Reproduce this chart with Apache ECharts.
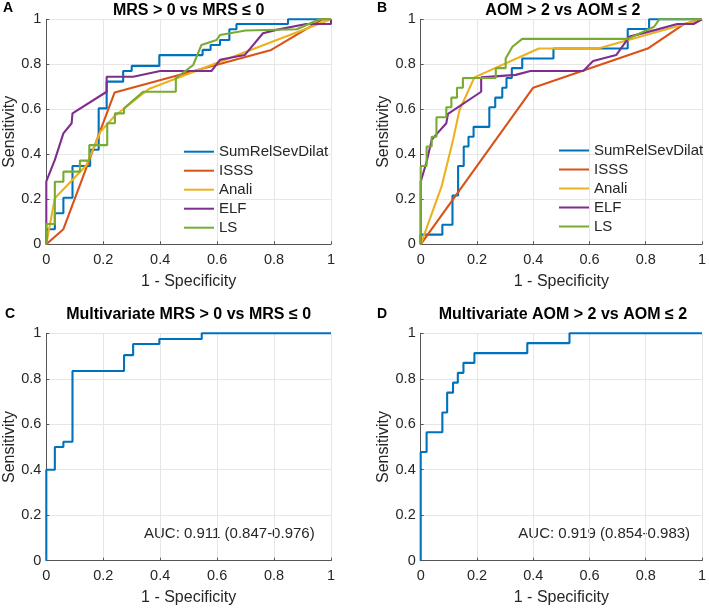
<!DOCTYPE html>
<html>
<head>
<meta charset="utf-8">
<script src="https://cdn.jsdelivr.net/npm/echarts@6/dist/echarts.min.js"></script>
<style>html,body{margin:0;padding:0;background:#fff}#c{width:709px;height:608px}</style>
</head>
<body>
<div id="c"></div>
<script>
// ---- data ----
const seriesNames = ['SumRelSevDilat', 'ISSS', 'Anali', 'ELF', 'LS'];
const tickValues = [0, 0.2, 0.4, 0.6, 0.8, 1];
const panelTitles = ['MRS > 0 vs MRS \u2264 0', 'AOM > 2 vs AOM \u2264 2',
  'Multivariate MRS > 0 vs MRS \u2264 0', 'Multivariate AOM > 2 vs AOM \u2264 2'];
const panelLetters = ['A', 'B', 'C', 'D'];
const aucTexts = ['AUC: 0.911 (0.847-0.976)', 'AUC: 0.919 (0.854-0.983)'];

// Panel A
const A_Sum = [[0,0],[0,0.067],[0.03,0.067],[0.03,0.138],[0.06,0.138],[0.06,0.207],[0.092,0.207],[0.092,0.348],[0.154,0.348],[0.154,0.42],[0.184,0.42],[0.184,0.604],[0.212,0.604],[0.212,0.723],[0.27,0.723],[0.27,0.77],[0.30,0.77],[0.30,0.793],[0.397,0.793],[0.397,0.841],[0.549,0.841],[0.549,0.864],[0.577,0.864],[0.577,0.886],[0.61,0.886],[0.61,0.908],[0.643,0.908],[0.643,0.956],[0.668,0.956],[0.668,0.979],[0.849,0.979],[0.849,1],[1,1]];
const A_ISSS = [[0,0],[0.06,0.067],[0.24,0.675],[0.79,0.864],[0.97,1],[1,1]];
const A_Anali = [[0,0],[0.03,0.205],[0.14,0.35],[0.19,0.50],[0.24,0.57],[0.36,0.69],[1,1]];
const A_ELF = [[0,0],[0,0.28],[0.03,0.375],[0.06,0.493],[0.089,0.538],[0.092,0.582],[0.212,0.678],[0.212,0.745],[0.305,0.745],[0.4,0.77],[0.58,0.77],[0.61,0.82],[0.697,0.841],[0.761,0.938],[0.808,0.953],[0.913,0.979],[1,0.979],[1,1]];
const A_LS = [[0,0],[0,0.09],[0.03,0.09],[0.03,0.278],[0.06,0.278],[0.06,0.323],[0.118,0.323],[0.118,0.372],[0.151,0.372],[0.151,0.441],[0.214,0.441],[0.214,0.538],[0.241,0.538],[0.241,0.582],[0.273,0.582],[0.273,0.604],[0.34,0.678],[0.455,0.678],[0.455,0.738],[0.516,0.797],[0.545,0.886],[0.598,0.908],[0.61,0.93],[0.70,0.95],[0.88,0.956],[0.96,1],[1,1]];

// Panel B
const B_Sum = [[0,0],[0,0.043],[0.077,0.043],[0.077,0.087],[0.113,0.087],[0.113,0.217],[0.133,0.217],[0.133,0.348],[0.153,0.348],[0.153,0.435],[0.17,0.435],[0.17,0.478],[0.188,0.478],[0.188,0.522],[0.244,0.522],[0.244,0.609],[0.265,0.609],[0.265,0.652],[0.29,0.652],[0.29,0.696],[0.305,0.696],[0.305,0.739],[0.324,0.739],[0.324,0.783],[0.361,0.783],[0.361,0.826],[0.472,0.826],[0.472,0.870],[0.736,0.870],[0.736,0.957],[0.812,0.957],[0.812,1],[1,1]];
const B_ISSS = [[0,0],[0.4,0.696],[0.807,0.870],[0.936,0.979],[1,1]];
const B_Anali = [[0,0],[0.074,0.256],[0.115,0.464],[0.138,0.597],[0.191,0.742],[0.42,0.870],[0.631,0.870],[1,1]];
const B_ELF = [[0,0],[0,0.278],[0.021,0.367],[0.039,0.464],[0.059,0.493],[0.091,0.538],[0.097,0.58],[0.215,0.678],[0.215,0.742],[0.338,0.753],[0.39,0.77],[0.578,0.77],[0.613,0.815],[0.695,0.841],[0.742,0.923],[0.836,0.953],[0.912,0.979],[0.97,0.979],[1,1]];
const B_LS = [[0,0],[0,0.348],[0.021,0.348],[0.021,0.435],[0.039,0.435],[0.039,0.478],[0.056,0.478],[0.056,0.565],[0.091,0.565],[0.091,0.609],[0.109,0.609],[0.109,0.652],[0.129,0.652],[0.129,0.696],[0.15,0.696],[0.15,0.739],[0.267,0.739],[0.267,0.783],[0.302,0.783],[0.302,0.826],[0.326,0.878],[0.361,0.913],[0.736,0.913],[0.83,0.967],[0.848,1],[1,1]];

// Panels C, D
const C_Multi = [[0,0],[0,0.40],[0.03,0.40],[0.03,0.5],[0.06,0.5],[0.06,0.523],[0.092,0.523],[0.092,0.834],[0.273,0.834],[0.273,0.904],[0.305,0.904],[0.305,0.953],[0.397,0.953],[0.397,0.975],[0.546,0.975],[0.546,1],[1,1]];
const D_Multi = [[0,0],[0,0.478],[0.021,0.478],[0.021,0.565],[0.077,0.565],[0.077,0.652],[0.094,0.652],[0.094,0.739],[0.115,0.739],[0.115,0.783],[0.132,0.783],[0.132,0.826],[0.152,0.826],[0.152,0.870],[0.191,0.870],[0.191,0.913],[0.379,0.913],[0.379,0.957],[0.529,0.957],[0.529,1],[1,1]];

// ---- styling / layout ----
const colors = ['#0072BD', '#D95319', '#EDB120', '#7E2F8E', '#77AC30'];
const FONT = '"Liberation Sans", Arial, Helvetica, sans-serif';
const TXT = '#262626';
const grids = [
  {left: 46.3, top: 19.3, width: 284.7, height: 225},
  {left: 420.7, top: 19.3, width: 284.3, height: 225},
  {left: 46.3, top: 333.3, width: 284.7, height: 227.4},
  {left: 420.7, top: 333.3, width: 284.3, height: 227.4}
];

function axis(i, isX) {
  return {
    type: 'value', gridIndex: i, min: tickValues[0], max: tickValues[tickValues.length - 1], interval: 0.2,
    name: isX ? '1 - Specificity' : 'Sensitivity',
    nameLocation: 'middle', nameGap: 29,
    nameTextStyle: {fontFamily: FONT, fontSize: 16, color: TXT},
    axisLine: {show: true, onZero: false, lineStyle: {color: '#555', width: 1}},
    axisTick: {show: true, inside: true, length: 3, lineStyle: {color: '#555'}},
    axisLabel: {fontFamily: FONT, fontSize: 14.5, color: TXT, margin: isX ? 8 : 5},
    splitLine: {show: true, lineStyle: {color: '#e6e6e6', width: 1}}
  };
}

const panelData = [[A_Sum, A_ISSS, A_Anali, A_ELF, A_LS], [B_Sum, B_ISSS, B_Anali, B_ELF, B_LS]];
const series = [];
panelData.forEach((arr, p) => {
  arr.forEach((d, k) => {
    series.push({
      type: 'line', name: seriesNames[k], xAxisIndex: p, yAxisIndex: p, data: d,
      showSymbol: false, symbol: 'none', clip: false, animation: false,
      lineStyle: {color: colors[k], width: 2.1}, itemStyle: {color: colors[k]}
    });
  });
});
[C_Multi, D_Multi].forEach((d, j) => {
  series.push({
    type: 'line', name: 'Multivariate', xAxisIndex: 2 + j, yAxisIndex: 2 + j, data: d,
    showSymbol: false, symbol: 'none', clip: false, animation: false,
    lineStyle: {color: colors[0], width: 2.1}, itemStyle: {color: colors[0]}
  });
});

const legendPos = [{left: 184, top: 142.2}, {left: 559, top: 141}];
const legend = legendPos.map(pos => ({
  left: pos.left, top: pos.top, orient: 'vertical', data: seriesNames,
  icon: 'rect', itemWidth: 30, itemHeight: 2, itemGap: 0, padding: 0,
  selectedMode: false,
  textStyle: {fontFamily: FONT, fontSize: 15, color: TXT, lineHeight: 19}
}));

const titleY = [10.5, 10.5, 315, 315];
const letterPos = [[3, 8.3], [377, 8.3], [5, 314], [377, 314]];
const graphic = [];
grids.forEach((g, i) => {
  graphic.push({type: 'text', x: g.left + g.width / 2, y: titleY[i], silent: true,
    style: {text: panelTitles[i], font: 'bold 16px ' + FONT, fill: '#000', textAlign: 'center', textVerticalAlign: 'middle'}});
  graphic.push({type: 'text', x: letterPos[i][0], y: letterPos[i][1], silent: true,
    style: {text: panelLetters[i], font: 'bold 14px ' + FONT, fill: '#000', textAlign: 'left', textVerticalAlign: 'middle'}});
});
const aucPos = [[144, 534.3], [518.3, 534.3]];
aucPos.forEach((p, j) => {
  graphic.push({type: 'text', x: p[0], y: p[1], silent: true,
    style: {text: aucTexts[j], font: '15px ' + FONT, fill: TXT, textAlign: 'left', textVerticalAlign: 'middle'}});
});

const chart = echarts.init(document.getElementById('c'), null, {renderer: 'canvas'});
chart.setOption({
  animation: false,
  backgroundColor: '#fff',
  grid: grids.map(g => Object.assign({containLabel: false}, g)),
  xAxis: grids.map((g, i) => axis(i, true)),
  yAxis: grids.map((g, i) => axis(i, false)),
  legend: legend,
  series: series,
  graphic: graphic
});
</script>
</body>
</html>
